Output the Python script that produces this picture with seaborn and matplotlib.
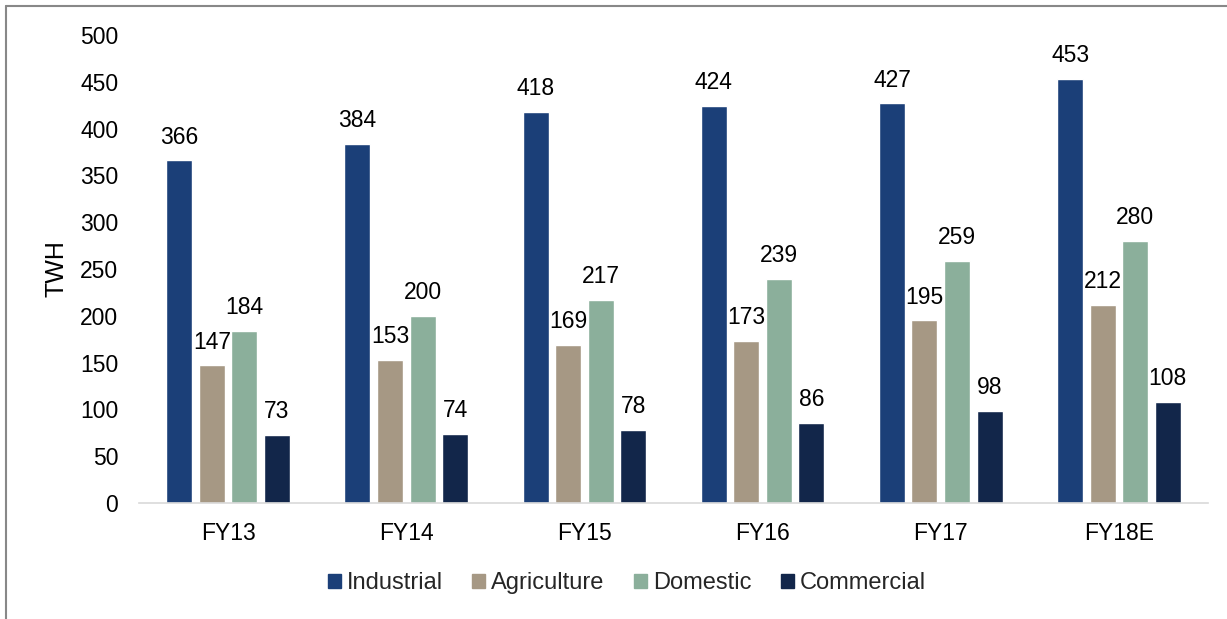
import matplotlib
matplotlib.use("Agg")
import matplotlib.pyplot as plt
import seaborn as sns
import pandas as pd
from matplotlib.lines import Line2D

years = ["FY13", "FY14", "FY15", "FY16", "FY17", "FY18E"]
industrial = [366, 384, 418, 424, 427, 453]
agriculture = [147, 153, 169, 173, 195, 212]
domestic = [184, 200, 217, 239, 259, 280]
commercial = [73, 74, 78, 86, 98, 108]
series_names = ["Industrial", "Agriculture", "Domestic", "Commercial"]
colors = ["#1B3F78", "#A69884", "#8BAF9B", "#12264A"]
yticks = [0, 50, 100, 150, 200, 250, 300, 350, 400, 450, 500]

rows = []
for name, vals in zip(series_names, [industrial, agriculture, domestic, commercial]):
    for y, v in zip(years, vals):
        rows.append({"year": y, "sector": name, "value": v})
df = pd.DataFrame(rows)

sns.set_theme(style="white")
plt.rcParams["font.family"] = ["Liberation Sans", "DejaVu Sans"]

fig = plt.figure(figsize=(12.27, 6.19), dpi=100)
ax = fig.add_axes([139/1227, 1-503/619, (1208-139)/1227, 468/619])

sns.barplot(data=df, x="year", y="value", hue="sector", hue_order=series_names,
            order=years, palette=colors, width=0.73, gap=0.2, ax=ax,
            saturation=1, legend=True)

for cont in ax.containers:
    ax.bar_label(cont, padding=8.5, fontsize=16.5, color="black")

ax.set_ylim(0, 500)
ax.set_yticks(yticks)
ax.set_xlim(-0.5, len(years) - 0.5)
ax.tick_params(axis="y", labelsize=16.5, length=0, pad=15, colors="black")
ax.tick_params(axis="x", labelsize=16.5, length=0, pad=14, colors="black")
ax.set_xlabel("")
ax.set_ylabel("TWH", fontsize=18, color="black", labelpad=8)
for s in ["top", "right", "left"]:
    ax.spines[s].set_visible(False)
ax.spines["bottom"].set_color("#D9D9D9")
ax.spines["bottom"].set_linewidth(1.2)

ax.legend_.remove()
handles = [plt.Rectangle((0, 0), 1, 1, color=c) for c in colors]
fig.legend(handles, series_names, loc="center", bbox_to_anchor=(627/1227, 1-583/619),
           ncol=4, frameon=False, fontsize=17, handlelength=0.55, handleheight=0.55,
           handletextpad=0.25, columnspacing=1.25)

fig.add_artist(Line2D([6/1227, 6/1227], [0, 1-6/619], transform=fig.transFigure,
                      color="#888888", linewidth=1.5))
fig.add_artist(Line2D([6/1227, 1], [1-6/619, 1-6/619], transform=fig.transFigure,
                      color="#888888", linewidth=1.5))

fig.savefig("out.png", dpi=100)
